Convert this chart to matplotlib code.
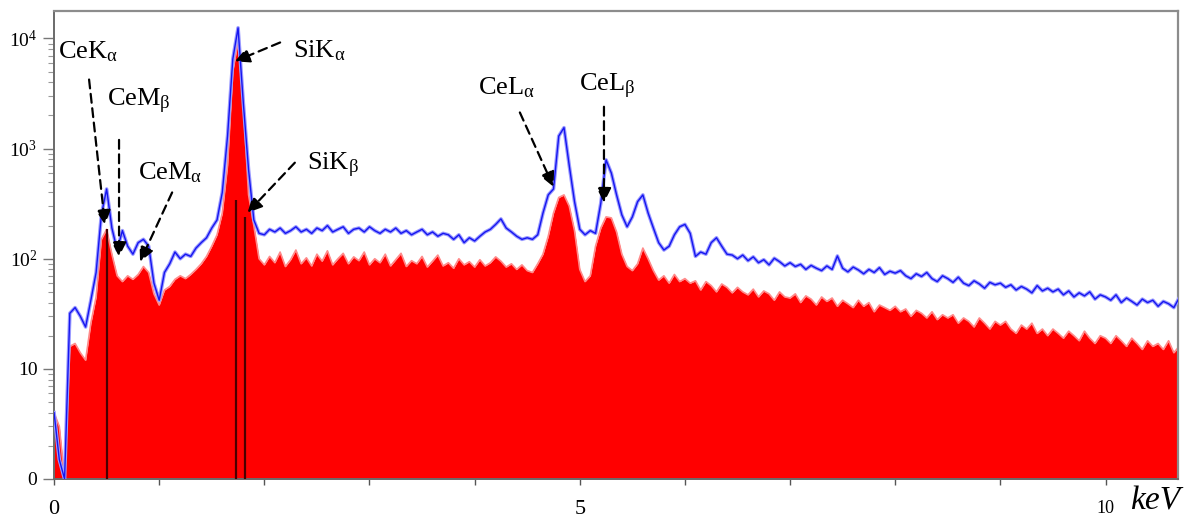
import numpy as np
import matplotlib.pyplot as plt
from matplotlib import rcParams
from matplotlib.ticker import LogLocator, NullFormatter

rcParams['font.family'] = 'serif'
rcParams['font.serif'] = ['Liberation Serif', 'DejaVu Serif']
rcParams['mathtext.fontset'] = 'custom'
rcParams['mathtext.rm'] = 'Liberation Serif'
rcParams['mathtext.it'] = 'Liberation Serif:italic'
rcParams['mathtext.bf'] = 'Liberation Serif:bold'

# channel width in keV (one value every 0.05 keV, 0 .. 10.70 keV)
step = 0.05

# upper spectrum (blue line), counts
blue_counts = [
    4, 1.5, 0, 32, 36, 30, 24, 42, 75, 250,
    430, 190, 120, 180, 130, 110, 140, 150, 130, 60,
    42, 75, 90, 115, 100, 110, 105, 125, 140, 155,
    190, 225, 400, 1300, 6500, 12500, 2600, 640, 225, 170,
    165, 185, 175, 190, 170, 180, 195, 175, 185, 170,
    190, 180, 200, 175, 185, 195, 170, 185, 190, 175,
    195, 180, 170, 185, 175, 190, 170, 180, 165, 175,
    185, 165, 175, 160, 170, 165, 150, 165, 140, 155,
    145, 160, 175, 185, 205, 230, 190, 175, 160, 150,
    155, 150, 165, 260, 380, 430, 1300, 1550, 700, 330,
    185, 165, 180, 170, 320, 790, 600, 380, 250, 195,
    240, 330, 380, 260, 190, 140, 120, 130, 165, 195,
    205, 170, 105, 115, 110, 140, 155, 130, 110, 108,
    100, 108, 96, 104, 92, 98, 88, 101, 94, 86,
    92, 85, 89, 80, 87, 82, 78, 86, 80, 106,
    82, 76, 84, 79, 73, 80, 75, 83, 72, 77,
    74, 78, 70, 66, 73, 69, 75, 66, 62, 70,
    66, 61, 68, 60, 57, 63, 59, 54, 61, 58,
    60, 55, 58, 52, 56, 53, 49, 57, 51, 54,
    50, 53, 47, 51, 45, 49, 46, 50, 43, 47,
    45, 42, 47, 40, 44, 41, 38, 43, 40, 42,
    37, 41, 39, 36, 44,
]

# lower spectrum (red filled), counts
red_counts = [
    4, 3, 0, 16, 17, 14, 12, 26, 45, 150,
    185, 110, 70, 62, 70, 65, 72, 85, 75, 48,
    38, 52, 56, 65, 70, 66, 72, 80, 90, 105,
    130, 165, 260, 700, 5000, 9500, 2600, 380, 200, 100,
    88, 105, 92, 115, 85, 98, 120, 90, 102, 86,
    110, 95, 118, 88, 100, 112, 90, 104, 96, 115,
    88, 100, 92, 110, 86, 98, 112, 85, 96, 90,
    105, 84, 95, 108, 86, 92, 82, 100, 88, 94,
    84, 98, 86, 92, 104, 95, 84, 90, 80, 88,
    78, 75, 90, 110, 160, 260, 360, 380, 300, 180,
    80, 62, 70, 130, 190, 240, 235, 175, 110, 85,
    78, 90, 125, 100, 78, 64, 70, 60, 72, 62,
    66, 60, 63, 52, 62, 57, 50, 59, 55, 49,
    55, 50, 47, 53, 45, 51, 48, 42, 50, 45,
    44, 48, 40, 46, 43, 38, 45, 41, 44, 37,
    42, 39, 36, 42, 37, 40, 33, 38, 36, 34,
    37, 33, 35, 30, 34, 32, 29, 33, 28, 31,
    29, 31, 26, 29, 27, 24, 29, 26, 23, 27,
    25, 27, 23, 21, 25, 23, 26, 21, 23, 20,
    23, 21, 19, 22, 20, 18, 22, 19, 17, 20,
    19, 17, 20, 18, 16, 19, 17, 15, 18, 16,
    17, 15, 18, 14, 16,
]

# vertical marker lines (keV, top in counts)
line_kev = [0.50, 1.73, 1.82]
line_top = [185, 345, 240]

peak_labels = ['CeK$_{\\mathrm{α}}$', 'CeM$_{\\mathrm{β}}$', 'CeM$_{\\mathrm{α}}$',
               'SiK$_{\\mathrm{α}}$', 'SiK$_{\\mathrm{β}}$',
               'CeL$_{\\mathrm{α}}$', 'CeL$_{\\mathrm{β}}$']

energy = np.arange(len(blue_counts)) * step
blue = np.clip(np.array(blue_counts, float), 1, None)
red = np.clip(np.array(red_counts, float), 1, None)

fig = plt.figure(figsize=(11.96, 5.22), dpi=100)
ax = fig.add_axes([0.0452, 0.0824, 0.9398, 0.8966])

ax.fill_between(energy, 1, red, color='#ff0000', lw=0, zorder=2)
ax.plot(energy, red, color='#ff8a8a', lw=1.2, zorder=2)
ax.vlines(line_kev, 1, line_top, color='#4a0000', lw=1.6, zorder=3)
ax.plot(energy, blue, color='#9a9aff', lw=2.6, zorder=4)
ax.plot(energy, blue, color='#1515f0', lw=1.0, zorder=5)

ax.set_yscale('log')
ax.set_xlim(0, 10.69)
ax.set_ylim(1, 10**4.25)

# label text positions (keV, counts), arrow tails and heads
label_pos = [(0.04, 6600), (0.50, 2400), (0.80, 525), (2.27, 6700),
             (2.41, 640), (4.03, 3100), (4.99, 3300)]
arrow_tail = [(0.333, 4240), (0.618, 1200), (1.123, 400), (2.15, 9200),
              (2.29, 745), (4.43, 2130), (5.23, 2400)]
arrow_head = [(0.485, 203), (0.618, 104), (0.818, 94), (1.72, 6200),
              (1.84, 262), (4.75, 450), (5.23, 323)]

for lab, pos in zip(peak_labels, label_pos):
    ax.text(pos[0], pos[1], lab, fontsize=19, ha='left', va='baseline', zorder=6)
for tail, head in zip(arrow_tail, arrow_head):
    ax.annotate('', xy=head, xytext=tail, zorder=6,
                arrowprops=dict(arrowstyle='-|>', color='black', lw=1.6,
                                linestyle=(0, (4, 2.5)), mutation_scale=22,
                                shrinkA=0, shrinkB=0))

ax.set_yticks([1, 10, 100, 1000, 10000])
ax.set_yticklabels(['0', '10', '$10^2$', '$10^3$', '$10^4$'], fontsize=14)
ax.yaxis.set_minor_locator(LogLocator(base=10, subs=np.arange(2, 10)))
ax.yaxis.set_minor_formatter(NullFormatter())
ax.tick_params(axis='y', which='major', length=8, width=1, color='#777777', pad=4)
ax.tick_params(axis='y', which='minor', length=4, width=0.8, color='#999999')

ax.set_xticks(range(11))
ax.set_xticklabels(['0', '', '', '', '', '5', '', '', '', '', '10'], fontsize=16)
ax.get_xticklabels()[10].set_fontsize(13)
ax.tick_params(axis='x', which='major', length=4, width=1, color='#555555', pad=11)

for side in ['top', 'right']:
    ax.spines[side].set_color('#8c8c8c')
    ax.spines[side].set_linewidth(1.6)
for side in ['left', 'bottom']:
    ax.spines[side].set_color('#6a6a6a')
    ax.spines[side].set_linewidth(1.4)

fig.text(0.966, 0.040, 'keV', fontsize=24, style='italic', ha='center', va='center')

plt.savefig('out.png', dpi=100)
